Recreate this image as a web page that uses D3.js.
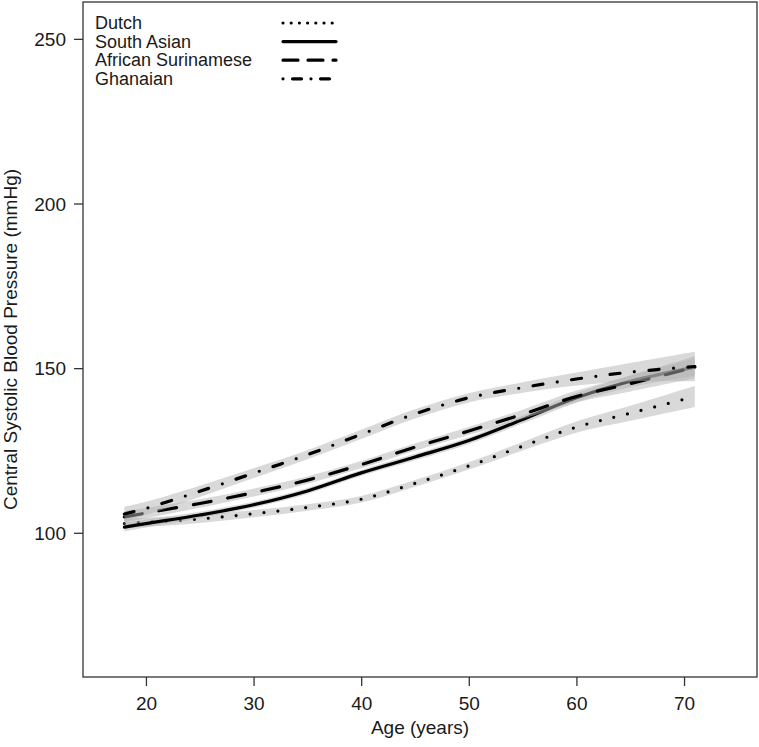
<!DOCTYPE html>
<html>
<head>
<meta charset="utf-8">
<script src="https://cdn.jsdelivr.net/npm/d3@7"></script>
<style>
  html, body { margin: 0; padding: 0; background: #fff; }
  svg { display: block; font-family: "Liberation Sans", Arial, Helvetica, sans-serif; }
</style>
</head>
<body>
<svg id="chart" width="759" height="747"></svg>
<script>
// ---- data ----
const ages = [18, 20, 25, 30, 35, 40, 45, 50, 55, 60, 65, 71];
const dutch      = [102.8, 103.2, 104.2, 105.8, 107.7, 110.2, 115.0, 120.3, 126.3, 132.1, 136.3, 141.4];
const southAsian = [101.7, 102.8, 105.4, 108.5, 112.7, 118.2, 123.0, 128.0, 134.4, 141.0, 146.0, 150.3];
const african    = [104.8, 106.0, 108.9, 112.2, 116.0, 120.7, 126.0, 130.9, 136.0, 141.4, 145.3, 150.3];
const ghanaian   = [105.7, 107.4, 112.6, 118.1, 123.7, 129.9, 136.1, 141.0, 144.1, 146.7, 148.8, 150.5];
const dutchCI      = [1.5, 1.4, 1.2, 1.1, 1.0, 1.0, 1.0, 1.1, 1.3, 1.7, 2.3, 3.2];
const southAsianCI = [1.3, 1.2, 1.0, 0.9, 0.9, 0.9, 1.0, 1.0, 1.2, 1.4, 1.8, 2.6];
const africanCI    = [1.8, 1.6, 1.3, 1.2, 1.1, 1.1, 1.1, 1.2, 1.4, 1.8, 2.4, 3.4];
const ghanaianCI   = [2.2, 2.0, 1.7, 1.5, 1.4, 1.4, 1.4, 1.4, 1.6, 2.0, 2.8, 4.5];
const seriesNames = ["Dutch", "South Asian", "African Surinamese", "Ghanaian"];
const xTicks = [20, 30, 40, 50, 60, 70];
const yTicks = [100, 150, 200, 250];

(function () {
const series = [
  { name: seriesNames[0], values: dutch, ci: dutchCI, dash: "0 14", legendDash: "0 8.2" },
  { name: seriesNames[1], values: southAsian, ci: southAsianCI, dash: null, legendDash: null },
  { name: seriesNames[2], values: african, ci: africanCI, dash: "18 17", legendDash: "15 10" },
  { name: seriesNames[3], values: ghanaian, ci: ghanaianCI, dash: "10 14.5 0 14.5", legendDash: "0 9.5 9 9.5" }
];

// ---- layout ----
const pl = 83, pr = 757, pt = 2, pb = 677;
const x = d3.scaleLinear().domain([14.15, 76.78]).range([pl, pr]);
const y = d3.scaleLinear().domain([56.2, 261.2]).range([pb, pt]);
const fs = 19, legendFs = 18;

const svg = d3.select("#chart");
const ink = "#1a1a1a";

svg.append("clipPath").attr("id", "clip")
  .append("rect").attr("x", pl).attr("y", pt).attr("width", pr - pl).attr("height", pb - pt);

const plot = svg.append("g").attr("clip-path", "url(#clip)");
const curve = d3.curveCatmullRom.alpha(0.5);

series.forEach(s => {
  const pts = ages.map((a, i) => ({ a, v: s.values[i], h: s.ci[i] }));
  const area = d3.area().x(d => x(d.a)).y0(d => y(d.v - d.h)).y1(d => y(d.v + d.h)).curve(curve);
  plot.append("path").attr("d", area(pts))
    .attr("fill", "#b4b4b4").attr("fill-opacity", 0.5).attr("stroke", "none");
  const line = d3.line().x(d => x(d.a)).y(d => y(d.v)).curve(curve);
  const p = plot.append("path").attr("d", line(pts))
    .attr("fill", "none").attr("stroke", "#000").attr("stroke-width", 3.2)
    .attr("stroke-linecap", "round").attr("stroke-linejoin", "round");
  if (s.dash) p.attr("stroke-dasharray", s.dash);
});

svg.append("rect").attr("x", pl).attr("y", pt).attr("width", pr - pl).attr("height", pb - pt)
  .attr("fill", "none").attr("stroke", "#333").attr("stroke-width", 1.3);

const xAxis = svg.append("g").attr("transform", `translate(0,${pb})`)
  .call(d3.axisBottom(x).tickValues(xTicks).tickSize(9).tickPadding(4).tickFormat(d3.format("d")));
xAxis.select(".domain").remove();
xAxis.selectAll(".tick line").attr("stroke", "#333").attr("stroke-width", 1.3);
xAxis.selectAll(".tick text").attr("font-size", fs).attr("fill", ink)
  .attr("font-family", "Liberation Sans, Arial, sans-serif").attr("dy", null).attr("y", 33);

const yAxis = svg.append("g").attr("transform", `translate(${pl},0)`)
  .call(d3.axisLeft(y).tickValues(yTicks).tickSize(9).tickPadding(8).tickFormat(d3.format("d")));
yAxis.select(".domain").remove();
yAxis.selectAll(".tick line").attr("stroke", "#333").attr("stroke-width", 1.3);
yAxis.selectAll(".tick text").attr("font-size", fs).attr("fill", ink)
  .attr("font-family", "Liberation Sans, Arial, sans-serif").attr("x", -17).attr("dy", "0.36em");

svg.append("text").attr("x", (pl + pr) / 2).attr("y", 734).attr("text-anchor", "middle")
  .attr("font-size", fs).attr("fill", ink).text("Age (years)");
svg.append("text").attr("transform", `translate(17,${(pt + pb) / 2}) rotate(-90)`)
  .attr("text-anchor", "middle").attr("font-size", fs).attr("fill", ink)
  .text("Central Systolic Blood Pressure (mmHg)");

const legend = svg.append("g");
series.forEach((s, i) => {
  const base = 29 + i * 18.6;
  legend.append("text").attr("x", 95).attr("y", base).attr("font-size", legendFs).attr("fill", ink).text(s.name);
  const l = legend.append("line").attr("x1", 283).attr("x2", 336)
    .attr("y1", base - 6).attr("y2", base - 6)
    .attr("stroke", "#000").attr("stroke-width", 3.2).attr("stroke-linecap", "round");
  if (s.legendDash) l.attr("stroke-dasharray", s.legendDash);
});
})();
</script>
</body>
</html>
